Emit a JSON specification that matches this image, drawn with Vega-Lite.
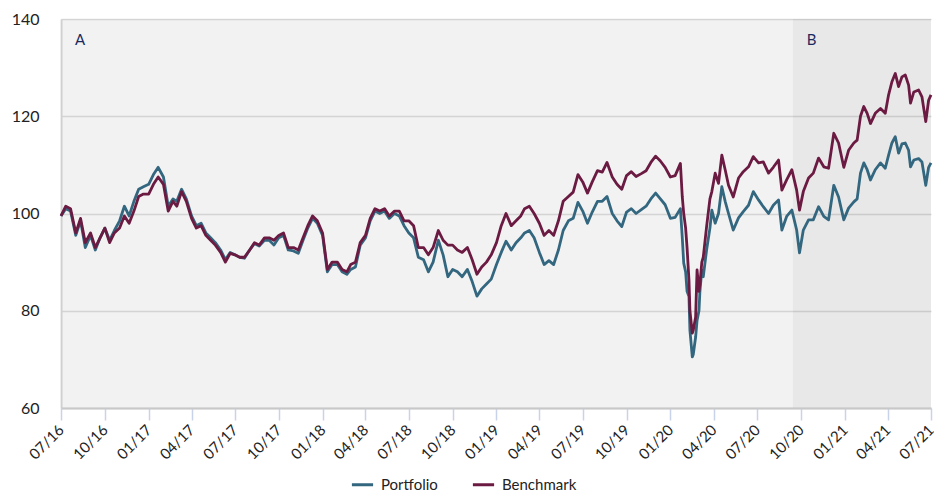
{
  "$schema": "https://vega.github.io/schema/vega-lite/v6.json",
  "width": 870,
  "height": 389,
  "autosize": {"type": "none"},
  "padding": {"left": 61, "top": 19, "right": 3, "bottom": 88},
  "config": {"view": {"stroke": null}, "font": "Lato"},
  "datasets": {
    "regions": [
      {"region": "A", "start": "2016-07-01", "end": "2020-09-14"},
      {"region": "B", "start": "2020-09-14", "end": "2021-07-01"}
    ],
    "series": [
      {"d": "2016-07-01", "Portfolio": 99.5, "Benchmark": 99.5},
      {"d": "2016-07-11", "Portfolio": 101, "Benchmark": 101.5},
      {"d": "2016-07-21", "Portfolio": 100.5, "Benchmark": 101},
      {"d": "2016-08-01", "Portfolio": 95.5, "Benchmark": 96},
      {"d": "2016-08-11", "Portfolio": 98.5, "Benchmark": 99},
      {"d": "2016-08-21", "Portfolio": 93, "Benchmark": 94},
      {"d": "2016-09-01", "Portfolio": 95.5, "Benchmark": 96},
      {"d": "2016-09-11", "Portfolio": 92.5, "Benchmark": 93},
      {"d": "2016-09-21", "Portfolio": 95, "Benchmark": 95},
      {"d": "2016-10-01", "Portfolio": 97, "Benchmark": 97},
      {"d": "2016-10-11", "Portfolio": 94.5, "Benchmark": 94},
      {"d": "2016-10-21", "Portfolio": 96.5, "Benchmark": 96},
      {"d": "2016-11-01", "Portfolio": 98.5, "Benchmark": 97},
      {"d": "2016-11-11", "Portfolio": 101.5, "Benchmark": 99.5},
      {"d": "2016-11-21", "Portfolio": 99.5, "Benchmark": 98},
      {"d": "2016-12-01", "Portfolio": 102.5, "Benchmark": 100.5},
      {"d": "2016-12-11", "Portfolio": 105, "Benchmark": 103.5},
      {"d": "2016-12-21", "Portfolio": 105.5, "Benchmark": 104},
      {"d": "2017-01-01", "Portfolio": 106, "Benchmark": 104},
      {"d": "2017-01-11", "Portfolio": 108, "Benchmark": 106},
      {"d": "2017-01-21", "Portfolio": 109.5, "Benchmark": 107.5},
      {"d": "2017-02-01", "Portfolio": 107.5, "Benchmark": 106},
      {"d": "2017-02-11", "Portfolio": 101.5, "Benchmark": 100.5},
      {"d": "2017-02-21", "Portfolio": 103, "Benchmark": 102.5},
      {"d": "2017-03-01", "Portfolio": 102.5, "Benchmark": 101.5},
      {"d": "2017-03-11", "Portfolio": 105, "Benchmark": 104.5},
      {"d": "2017-03-21", "Portfolio": 103, "Benchmark": 102.5},
      {"d": "2017-04-01", "Portfolio": 99.5, "Benchmark": 99},
      {"d": "2017-04-11", "Portfolio": 97.5, "Benchmark": 97},
      {"d": "2017-04-21", "Portfolio": 98, "Benchmark": 97.5},
      {"d": "2017-05-01", "Portfolio": 96, "Benchmark": 95.5},
      {"d": "2017-05-11", "Portfolio": 95, "Benchmark": 94.5},
      {"d": "2017-05-21", "Portfolio": 94, "Benchmark": 93.5},
      {"d": "2017-06-01", "Portfolio": 92.5, "Benchmark": 92},
      {"d": "2017-06-11", "Portfolio": 90.5, "Benchmark": 90},
      {"d": "2017-06-21", "Portfolio": 92, "Benchmark": 91.8},
      {"d": "2017-07-01", "Portfolio": 91.5, "Benchmark": 91.5},
      {"d": "2017-07-11", "Portfolio": 91, "Benchmark": 91},
      {"d": "2017-07-21", "Portfolio": 90.8, "Benchmark": 91},
      {"d": "2017-08-01", "Portfolio": 92.5, "Benchmark": 92.5},
      {"d": "2017-08-11", "Portfolio": 93.8, "Benchmark": 94},
      {"d": "2017-08-21", "Portfolio": 93.3, "Benchmark": 93.5},
      {"d": "2017-09-01", "Portfolio": 94.5, "Benchmark": 95},
      {"d": "2017-09-11", "Portfolio": 94.5, "Benchmark": 95},
      {"d": "2017-09-21", "Portfolio": 93.5, "Benchmark": 94.5},
      {"d": "2017-10-01", "Portfolio": 95, "Benchmark": 95.5},
      {"d": "2017-10-11", "Portfolio": 95.5, "Benchmark": 96},
      {"d": "2017-10-21", "Portfolio": 92.5, "Benchmark": 93},
      {"d": "2017-11-01", "Portfolio": 92.3, "Benchmark": 93},
      {"d": "2017-11-11", "Portfolio": 91.8, "Benchmark": 92.5},
      {"d": "2017-11-21", "Portfolio": 94.5, "Benchmark": 95},
      {"d": "2017-12-01", "Portfolio": 97, "Benchmark": 97.5},
      {"d": "2017-12-11", "Portfolio": 99, "Benchmark": 99.5},
      {"d": "2017-12-21", "Portfolio": 98, "Benchmark": 98.5},
      {"d": "2018-01-01", "Portfolio": 95.5, "Benchmark": 96},
      {"d": "2018-01-11", "Portfolio": 88, "Benchmark": 88.5},
      {"d": "2018-01-21", "Portfolio": 89.5, "Benchmark": 90},
      {"d": "2018-02-01", "Portfolio": 89.5, "Benchmark": 90},
      {"d": "2018-02-11", "Portfolio": 88, "Benchmark": 88.5},
      {"d": "2018-02-21", "Portfolio": 87.5, "Benchmark": 88},
      {"d": "2018-03-01", "Portfolio": 88.5, "Benchmark": 89.5},
      {"d": "2018-03-11", "Portfolio": 89, "Benchmark": 90},
      {"d": "2018-03-21", "Portfolio": 93.5, "Benchmark": 94},
      {"d": "2018-04-01", "Portfolio": 95, "Benchmark": 95.5},
      {"d": "2018-04-11", "Portfolio": 98.5, "Benchmark": 99},
      {"d": "2018-04-21", "Portfolio": 100.5, "Benchmark": 101},
      {"d": "2018-05-01", "Portfolio": 100, "Benchmark": 100.5},
      {"d": "2018-05-11", "Portfolio": 100.5, "Benchmark": 101},
      {"d": "2018-05-21", "Portfolio": 99, "Benchmark": 99.5},
      {"d": "2018-06-01", "Portfolio": 100, "Benchmark": 100.5},
      {"d": "2018-06-11", "Portfolio": 99.5, "Benchmark": 100.5},
      {"d": "2018-06-21", "Portfolio": 97.5, "Benchmark": 98.5},
      {"d": "2018-07-01", "Portfolio": 96, "Benchmark": 98.5},
      {"d": "2018-07-11", "Portfolio": 95, "Benchmark": 97.5},
      {"d": "2018-07-21", "Portfolio": 91, "Benchmark": 93},
      {"d": "2018-08-01", "Portfolio": 90.5, "Benchmark": 93},
      {"d": "2018-08-11", "Portfolio": 88, "Benchmark": 91.5},
      {"d": "2018-08-21", "Portfolio": 90, "Benchmark": 93},
      {"d": "2018-09-01", "Portfolio": 94.5, "Benchmark": 96.5},
      {"d": "2018-09-11", "Portfolio": 91.5, "Benchmark": 94.5},
      {"d": "2018-09-21", "Portfolio": 87, "Benchmark": 93.5},
      {"d": "2018-10-01", "Portfolio": 88.5, "Benchmark": 93.5},
      {"d": "2018-10-11", "Portfolio": 88, "Benchmark": 92.5},
      {"d": "2018-10-21", "Portfolio": 87, "Benchmark": 92},
      {"d": "2018-11-01", "Portfolio": 88.5, "Benchmark": 93},
      {"d": "2018-11-11", "Portfolio": 86, "Benchmark": 90.5},
      {"d": "2018-11-21", "Portfolio": 83, "Benchmark": 87.5},
      {"d": "2018-12-01", "Portfolio": 84.5, "Benchmark": 89},
      {"d": "2018-12-11", "Portfolio": 85.5, "Benchmark": 90},
      {"d": "2018-12-21", "Portfolio": 86.5, "Benchmark": 91.5},
      {"d": "2019-01-01", "Portfolio": 89.5, "Benchmark": 94},
      {"d": "2019-01-11", "Portfolio": 92, "Benchmark": 97.5},
      {"d": "2019-01-21", "Portfolio": 94.3, "Benchmark": 100},
      {"d": "2019-02-01", "Portfolio": 92.5, "Benchmark": 97.5},
      {"d": "2019-02-11", "Portfolio": 94, "Benchmark": 98.5},
      {"d": "2019-02-21", "Portfolio": 95, "Benchmark": 99.5},
      {"d": "2019-03-01", "Portfolio": 96, "Benchmark": 101},
      {"d": "2019-03-11", "Portfolio": 96.5, "Benchmark": 101.5},
      {"d": "2019-03-21", "Portfolio": 95, "Benchmark": 100},
      {"d": "2019-04-01", "Portfolio": 92, "Benchmark": 98},
      {"d": "2019-04-11", "Portfolio": 89.5, "Benchmark": 95.5},
      {"d": "2019-04-21", "Portfolio": 90.3, "Benchmark": 96.5},
      {"d": "2019-05-01", "Portfolio": 89.5, "Benchmark": 95.5},
      {"d": "2019-05-11", "Portfolio": 92.5, "Benchmark": 98.5},
      {"d": "2019-05-21", "Portfolio": 96.5, "Benchmark": 102.5},
      {"d": "2019-06-01", "Portfolio": 98.5, "Benchmark": 103.5},
      {"d": "2019-06-11", "Portfolio": 99, "Benchmark": 104.4},
      {"d": "2019-06-21", "Portfolio": 102.3, "Benchmark": 108},
      {"d": "2019-07-01", "Portfolio": 100.5, "Benchmark": 106.5},
      {"d": "2019-07-11", "Portfolio": 98, "Benchmark": 104.2},
      {"d": "2019-07-21", "Portfolio": 100.3, "Benchmark": 106.5},
      {"d": "2019-08-01", "Portfolio": 102.5, "Benchmark": 108.8},
      {"d": "2019-08-11", "Portfolio": 102.5, "Benchmark": 108.5},
      {"d": "2019-08-21", "Portfolio": 103.5, "Benchmark": 110.5},
      {"d": "2019-09-01", "Portfolio": 100, "Benchmark": 107.5},
      {"d": "2019-09-11", "Portfolio": 98.5, "Benchmark": 106},
      {"d": "2019-09-21", "Portfolio": 97.3, "Benchmark": 105},
      {"d": "2019-10-01", "Portfolio": 100.3, "Benchmark": 107.8},
      {"d": "2019-10-11", "Portfolio": 101, "Benchmark": 108.6},
      {"d": "2019-10-21", "Portfolio": 100, "Benchmark": 107.6},
      {"d": "2019-11-01", "Portfolio": 100.8, "Benchmark": 108.2},
      {"d": "2019-11-11", "Portfolio": 101.5, "Benchmark": 108.8},
      {"d": "2019-11-21", "Portfolio": 103, "Benchmark": 110.5},
      {"d": "2019-12-01", "Portfolio": 104.2, "Benchmark": 111.8},
      {"d": "2019-12-11", "Portfolio": 103, "Benchmark": 110.8},
      {"d": "2019-12-21", "Portfolio": 101.8, "Benchmark": 109.5},
      {"d": "2020-01-01", "Portfolio": 99, "Benchmark": 107.5},
      {"d": "2020-01-11", "Portfolio": 99.2, "Benchmark": 107.8},
      {"d": "2020-01-22", "Portfolio": 101, "Benchmark": 110.3},
      {"d": "2020-01-26", "Portfolio": 95, "Benchmark": 103.4},
      {"d": "2020-01-29", "Portfolio": 89.8, "Benchmark": 100},
      {"d": "2020-02-02", "Portfolio": 88, "Benchmark": 97},
      {"d": "2020-02-05", "Portfolio": 84, "Benchmark": 93},
      {"d": "2020-02-09", "Portfolio": 82.9, "Benchmark": 86.3},
      {"d": "2020-02-11", "Portfolio": 76, "Benchmark": 80},
      {"d": "2020-02-16", "Portfolio": 70.5, "Benchmark": 75.4},
      {"d": "2020-02-18", "Portfolio": 71, "Benchmark": 76},
      {"d": "2020-02-23", "Portfolio": 74.6, "Benchmark": 78.7},
      {"d": "2020-02-26", "Portfolio": 78, "Benchmark": 88.4},
      {"d": "2020-03-01", "Portfolio": 80, "Benchmark": 84},
      {"d": "2020-03-03", "Portfolio": 84, "Benchmark": 85.5},
      {"d": "2020-03-07", "Portfolio": 88.4, "Benchmark": 90},
      {"d": "2020-03-10", "Portfolio": 87, "Benchmark": 91},
      {"d": "2020-03-17", "Portfolio": 92.5, "Benchmark": 97.3},
      {"d": "2020-03-24", "Portfolio": 97, "Benchmark": 103},
      {"d": "2020-03-28", "Portfolio": 100.7, "Benchmark": 104.5},
      {"d": "2020-04-04", "Portfolio": 98, "Benchmark": 108.3},
      {"d": "2020-04-11", "Portfolio": 100, "Benchmark": 106.2},
      {"d": "2020-04-18", "Portfolio": 105.5, "Benchmark": 112},
      {"d": "2020-04-25", "Portfolio": 102.5, "Benchmark": 109},
      {"d": "2020-05-02", "Portfolio": 100, "Benchmark": 105.8},
      {"d": "2020-05-12", "Portfolio": 96.6, "Benchmark": 103.4},
      {"d": "2020-05-23", "Portfolio": 99.1, "Benchmark": 107.3},
      {"d": "2020-06-02", "Portfolio": 100.4, "Benchmark": 108.6},
      {"d": "2020-06-13", "Portfolio": 101.7, "Benchmark": 109.6},
      {"d": "2020-06-23", "Portfolio": 104.5, "Benchmark": 111.7},
      {"d": "2020-07-04", "Portfolio": 102.8, "Benchmark": 110.4},
      {"d": "2020-07-14", "Portfolio": 101.4, "Benchmark": 110.6},
      {"d": "2020-07-25", "Portfolio": 100, "Benchmark": 108.3},
      {"d": "2020-08-04", "Portfolio": 101.7, "Benchmark": 109.5},
      {"d": "2020-08-15", "Portfolio": 102.8, "Benchmark": 111},
      {"d": "2020-08-22", "Portfolio": 96.6, "Benchmark": 104.8},
      {"d": "2020-09-01", "Portfolio": 99.4, "Benchmark": 106.9},
      {"d": "2020-09-12", "Portfolio": 100.7, "Benchmark": 109},
      {"d": "2020-09-22", "Portfolio": 96.6, "Benchmark": 104.8},
      {"d": "2020-09-28", "Portfolio": 91.9, "Benchmark": 100.7},
      {"d": "2020-10-06", "Portfolio": 96.6, "Benchmark": 104.5},
      {"d": "2020-10-17", "Portfolio": 98.7, "Benchmark": 107.3},
      {"d": "2020-10-27", "Portfolio": 98.7, "Benchmark": 108.3},
      {"d": "2020-11-07", "Portfolio": 101.4, "Benchmark": 111.4},
      {"d": "2020-11-18", "Portfolio": 99.4, "Benchmark": 109.6},
      {"d": "2020-11-28", "Portfolio": 98.7, "Benchmark": 109.3},
      {"d": "2020-12-09", "Portfolio": 105.8, "Benchmark": 116.5},
      {"d": "2020-12-19", "Portfolio": 103.4, "Benchmark": 114.5},
      {"d": "2020-12-30", "Portfolio": 98.7, "Benchmark": 109.5},
      {"d": "2021-01-09", "Portfolio": 101.1, "Benchmark": 113},
      {"d": "2021-01-20", "Portfolio": 102.4, "Benchmark": 114.5},
      {"d": "2021-01-27", "Portfolio": 103, "Benchmark": 115.1},
      {"d": "2021-02-03", "Portfolio": 108.3, "Benchmark": 120},
      {"d": "2021-02-10", "Portfolio": 110.4, "Benchmark": 122},
      {"d": "2021-02-17", "Portfolio": 109, "Benchmark": 120.6},
      {"d": "2021-02-24", "Portfolio": 106.9, "Benchmark": 118.5},
      {"d": "2021-03-06", "Portfolio": 109, "Benchmark": 120.6},
      {"d": "2021-03-17", "Portfolio": 110.4, "Benchmark": 121.6},
      {"d": "2021-03-27", "Portfolio": 109.3, "Benchmark": 120.6},
      {"d": "2021-04-03", "Portfolio": 112, "Benchmark": 124.4},
      {"d": "2021-04-10", "Portfolio": 114.5, "Benchmark": 127.1},
      {"d": "2021-04-17", "Portfolio": 115.8, "Benchmark": 128.8},
      {"d": "2021-04-24", "Portfolio": 112.4, "Benchmark": 126.1},
      {"d": "2021-05-01", "Portfolio": 114.3, "Benchmark": 128.1},
      {"d": "2021-05-08", "Portfolio": 114.5, "Benchmark": 128.5},
      {"d": "2021-05-15", "Portfolio": 113, "Benchmark": 126.4},
      {"d": "2021-05-19", "Portfolio": 109.6, "Benchmark": 122.7},
      {"d": "2021-05-26", "Portfolio": 111, "Benchmark": 125},
      {"d": "2021-06-05", "Portfolio": 111.3, "Benchmark": 125.4},
      {"d": "2021-06-12", "Portfolio": 110.6, "Benchmark": 124},
      {"d": "2021-06-20", "Portfolio": 105.8, "Benchmark": 118.9},
      {"d": "2021-06-26", "Portfolio": 109.5, "Benchmark": 123.3},
      {"d": "2021-07-01", "Portfolio": 110.4, "Benchmark": 124.4}
    ]
  },
  "layer": [
    {
      "data": {"name": "regions"},
      "mark": {"type": "rect", "color": "#000000"},
      "encoding": {
        "x": {"field": "start", "type": "temporal",
              "scale": {"type": "utc", "domain": [{"year": 2016, "month": 7, "date": 1, "utc": true}, {"year": 2021, "month": 7, "date": 1, "utc": true}]}},
        "x2": {"field": "end"},
        "opacity": {"field": "region", "type": "nominal", "scale": {"domain": ["A", "B"], "range": [0.05, 0.09]}, "legend": null}
      }
    },
    {
      "data": {"name": "regions"},
      "mark": {"type": "text", "align": "left", "baseline": "middle", "dx": 14, "fontSize": 15, "color": "#1b2a5e", "font": "Lato"},
      "encoding": {
        "x": {"field": "start", "type": "temporal"},
        "y": {"datum": 135.7, "type": "quantitative"},
        "text": {"field": "region"}
      }
    },
    {
      "data": {"name": "series"},
      "transform": [
        {"fold": ["Portfolio", "Benchmark"], "as": ["series", "value"]},
        {"filter": "datum.series === 'Portfolio'"}
      ],
      "mark": {"type": "line", "strokeWidth": 2.8, "strokeJoin": "round"},
      "encoding": {
        "x": {"field": "d", "type": "temporal",
              "axis": {"title": null, "format": "%m/%y", "tickCount": {"interval": "month", "step": 3},
                       "labelAngle": -45, "labelAlign": "right", "labelBaseline": "middle", "labelFontSize": 15,
                       "labelColor": "#222222", "labelFont": "Lato",
                       "tickColor": "#c8d2e8", "tickSize": 12, "tickWidth": 1.5,
                       "domainColor": "#c8c8c8", "domainWidth": 2, "grid": false, "zindex": 1, "labelPadding": 7}},
        "y": {"field": "value", "type": "quantitative",
              "scale": {"domain": [60, 140], "nice": false, "zero": false},
              "axis": {"title": null, "values": [60, 80, 100, 120, 140], "labelFontSize": 16, "labelColor": "#222222", "labelFont": "Lato",
                       "ticks": false, "labelPadding": 22, "domainColor": "#dcdcdc", "domainWidth": 2,
                       "grid": true, "gridColor": "#e0e0e0", "gridWidth": 1.6}},
        "color": {"field": "series", "type": "nominal",
                  "scale": {"domain": ["Portfolio", "Benchmark"], "range": ["#33667f", "#6b1a42"]},
                  "legend": {"title": null, "orient": "none", "legendX": 289, "legendY": 453,
                             "direction": "horizontal", "symbolType": "stroke",
                             "symbolStrokeWidth": 3, "symbolSize": 450, "labelFontSize": 15, "labelFont": "Lato",
                             "labelColor": "#222222", "columnPadding": 28, "labelOffset": 6}}
      }
    },
    {
      "data": {"name": "series"},
      "transform": [
        {"fold": ["Portfolio", "Benchmark"], "as": ["series", "value"]},
        {"filter": "datum.series === 'Benchmark'"}
      ],
      "mark": {"type": "line", "strokeWidth": 2.8, "strokeJoin": "round"},
      "encoding": {
        "x": {"field": "d", "type": "temporal"},
        "y": {"field": "value", "type": "quantitative"},
        "color": {"field": "series", "type": "nominal"}
      }
    }
  ]
}
